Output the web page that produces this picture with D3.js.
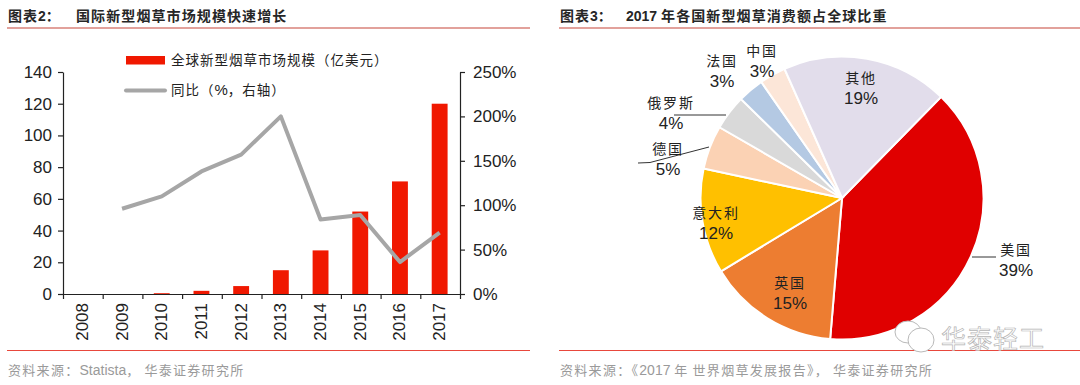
<!DOCTYPE html>
<html><head><meta charset="utf-8">
<script src="https://cdn.jsdelivr.net/npm/d3@7/dist/d3.min.js"></script>
<style>
html,body{margin:0;padding:0;background:#fff}
svg{display:block}
text{font-family:"Liberation Sans","Noto Sans CJK SC",sans-serif}
</style></head><body>
<svg id="c" width="1080" height="385"></svg>
<script>
const years=["2008","2009","2010","2011","2012","2013","2014","2015","2016","2017"];
const marketSize=[0,0,0.5,2,5,15,27.5,52,71,120];
const yoy=[null,96,110,138,157,200,84,89,36,69];
const leftTicks=[0,20,40,60,80,100,120,140];
const rightTicks=[0,50,100,150,200,250];
const countries=["美国","英国","意大利","德国","俄罗斯","法国","中国","其他"];
const shares=[39,15,12,5,4,3,3,19];
const sliceColors=["#E00000","#ED7D31","#FFC000","#FBD2B4","#D9D9D9","#B4C9E3","#FCE6D8","#E2DDEB"];

const svg=d3.select("#c");
const ink="#222";

// text with CJK runs letter-spaced and Latin runs not
function rich(parent,str,xp,yp,size,fill,spacing,weight,latinSize){
  const t=parent.append("text").attr("x",xp).attr("y",yp).attr("font-size",size).attr("fill",fill);
  if(weight) t.attr("font-weight",weight);
  (str.match(/[\x00-\x7f]+|[^\x00-\x7f]+/g)||[]).forEach(run=>{
    const latin=/^[\x00-\x7f]/.test(run);
    t.append("tspan").attr("letter-spacing",latin?0:spacing).attr("font-size",latin&&latinSize?latinSize:size).attr("xml:space","preserve").text(run);
  });
  return t;
}
function frame(x1,x2,prefix,title,titleX,source){
  svg.append("line").attr("x1",x1).attr("x2",x2).attr("y1",28).attr("y2",28).attr("stroke","#D9827A").attr("stroke-width",1.6);
  svg.append("line").attr("x1",x1).attr("x2",x2).attr("y1",350.5).attr("y2",350.5).attr("stroke","#E8483C").attr("stroke-width",1);
  rich(svg,prefix,x1+1,21,14,"#262626",1,700);
  rich(svg,title,titleX,21,14,"#262626",1.1,700);
  rich(svg,source,x1+1,374.5,13,"#9a9a9a",1.3,null,14);
}
frame(7,530,"图表2\uFF1A","国际新型烟草市场规模快速增长",76,"资料来源\uFF1AStatista\uFF0C 华泰证券研究所");
frame(559,1080,"图表3\uFF1A","2017 年各国新型烟草消费额占全球比重",626,"资料来源\uFF1A《2017 年 世界烟草发展报告》\uFF0C 华泰证券研究所");

// left chart
const L=63,R=460,T=72,B=294;
const x=d3.scaleBand().domain(years).range([L,R]).paddingInner(0.6).paddingOuter(0.3);
const xPoint=d=>x(d)+x.bandwidth()/2-0.5;
const y=d3.scaleLinear().domain([0,140]).range([B,T]);
const y2=d3.scaleLinear().domain([0,250]).range([B,T]);

svg.append("g").selectAll("rect").data(years).join("rect")
  .attr("x",d=>x(d)-0.5).attr("width",x.bandwidth())
  .attr("y",(d,i)=>y(marketSize[i])).attr("height",(d,i)=>B-y(marketSize[i]))
  .attr("fill","#F01800");

const line=d3.line().defined(d=>d.v!==null).x(d=>xPoint(d.k)).y(d=>y2(d.v));
svg.append("path").datum(years.map((k,i)=>({k,v:yoy[i]}))).attr("d",line)
  .attr("fill","none").attr("stroke","#A6A6A6").attr("stroke-width",4).attr("stroke-linejoin","round");

function styleAxis(g){
  g.selectAll("path,line").attr("stroke","#222").attr("stroke-width",1.2);
  g.selectAll("text").attr("font-size",17).attr("fill",ink).attr("font-family","Liberation Sans");
}
svg.append("g").attr("transform",`translate(${L},0)`)
  .call(d3.axisLeft(y).tickValues(leftTicks).tickSize(5).tickSizeOuter(0).tickPadding(6)).call(styleAxis);
svg.append("g").attr("transform",`translate(${R},0)`)
  .call(d3.axisRight(y2).tickValues(rightTicks).tickSize(5).tickSizeOuter(0).tickPadding(8).tickFormat(d=>d+"%")).call(styleAxis);

const xEdge=d3.scaleLinear().domain([0,years.length]).range([L,R]);
const xg=svg.append("g").attr("transform",`translate(0,${B})`)
  .call(d3.axisBottom(xEdge).tickValues(d3.range(0,years.length+1)).tickSize(5).tickSizeOuter(0).tickFormat(""));
styleAxis(xg);
svg.append("g").selectAll("text").data(years).join("text")
  .attr("transform",d=>`translate(${xPoint(d)+5.5},${B+9}) rotate(-90)`)
  .attr("text-anchor","end").attr("font-size",17).attr("fill",ink).text(d=>d);

// legend
svg.append("rect").attr("x",126).attr("y",56).attr("width",39).attr("height",8.5).attr("fill","#F01800");
rich(svg,"全球新型烟草市场规模\uFF08亿美元\uFF09",171,65,13.5,ink,1);
svg.append("line").attr("x1",126).attr("x2",165).attr("y1",90.5).attr("y2",90.5).attr("stroke","#A6A6A6").attr("stroke-width",4).attr("stroke-linecap","round");
rich(svg,"同比\uFF08%\uFF0C右轴\uFF09",171,95,13.5,ink,1,null,15);

// pie
const cx=842,cy=198,rad=141.5;
const startA=44.4*Math.PI/180;
const pie=d3.pie().sort(null).startAngle(startA).endAngle(startA+2*Math.PI)(shares);
const arc=d3.arc().innerRadius(0).outerRadius(rad);
svg.append("g").attr("transform",`translate(${cx},${cy})`).selectAll("path").data(pie).join("path")
  .attr("d",arc).attr("fill",(d,i)=>sliceColors[i]).attr("stroke","#fff").attr("stroke-width",2);

// leader lines
const leaders=[[[972,257],[996,257]],[[674,115],[726,115]],[[638,163],[650,162.5],[709,147]]];
const ll=d3.line();
svg.append("g").selectAll("path").data(leaders).join("path").attr("d",d=>ll(d)).attr("fill","none").attr("stroke","#333").attr("stroke-width",1);

// pie labels, in slice order
const labelAt=[[1016,251],[790,284],[716,214],[668,150],[671,104],[722,62],[762,52],[861,79]];
const labels=svg.append("g");
countries.forEach((c,i)=>{
  const [lx,ly]=labelAt[i];
  labels.append("text").attr("x",lx).attr("y",ly).attr("text-anchor","middle").attr("dominant-baseline","middle")
    .attr("font-size",14).attr("letter-spacing",1.8).attr("fill",ink).text(c);
  labels.append("text").attr("x",lx).attr("y",ly+20.5).attr("text-anchor","middle").attr("dominant-baseline","middle")
    .attr("font-size",17).attr("fill",ink).text(shares[i]+"%");
});

// watermark
const wm=svg.append("g").attr("fill","#fff").attr("stroke","#b9b9b9").attr("stroke-width",1);
wm.append("ellipse").attr("cx",908).attr("cy",332).attr("rx",13).attr("ry",11);
wm.append("ellipse").attr("cx",921).attr("cy",340).attr("rx",13).attr("ry",12);
svg.append("text").attr("x",941).attr("y",348).attr("font-size",25).attr("letter-spacing",1)
  .attr("fill","#fff").attr("stroke","#b5b5b5").attr("stroke-width",0.7).text("华泰轻工");
</script>
</body></html>
